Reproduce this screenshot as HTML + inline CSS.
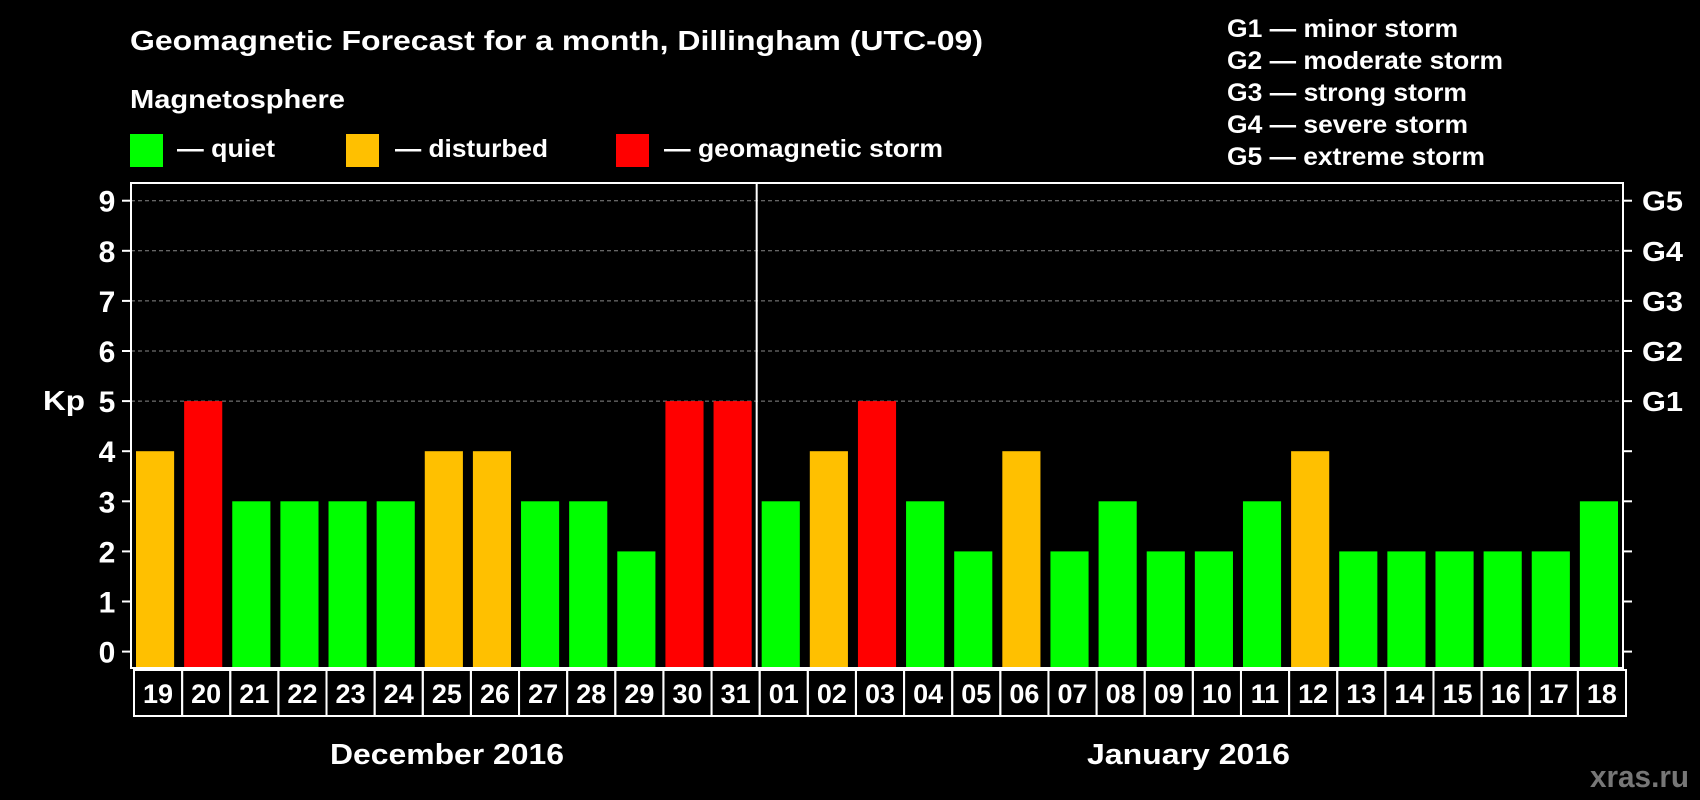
<!DOCTYPE html>
<html><head><meta charset="utf-8"><style>
html,body{margin:0;padding:0;background:#000;}
svg{display:block;font-family:"Liberation Sans",Arial,sans-serif;font-weight:bold;}
</style></head><body>
<svg id="chart" width="1700" height="800" viewBox="0 0 1700 800" xmlns="http://www.w3.org/2000/svg">
<rect width="1700" height="800" fill="#000"/>
<text x="130" y="50" fill="#fff" font-size="28" textLength="853" lengthAdjust="spacingAndGlyphs">Geomagnetic Forecast for a month, Dillingham (UTC-09)</text>
<text x="130" y="108" fill="#fff" font-size="26" textLength="215" lengthAdjust="spacingAndGlyphs">Magnetosphere</text>
<g><rect x="130" y="134" width="33" height="33" fill="#00ff00"/><text x="177" y="157" fill="#fff" font-size="25" textLength="98" lengthAdjust="spacingAndGlyphs">— quiet</text></g>
<g><rect x="346" y="134" width="33" height="33" fill="#ffc000"/><text x="395" y="157" fill="#fff" font-size="25" textLength="153" lengthAdjust="spacingAndGlyphs">— disturbed</text></g>
<g><rect x="616" y="134" width="33" height="33" fill="#ff0000"/><text x="664" y="157" fill="#fff" font-size="25" textLength="279" lengthAdjust="spacingAndGlyphs">— geomagnetic storm</text></g>
<g fill="#fff" font-size="25" lengthAdjust="spacingAndGlyphs">
<text x="1227" y="37" textLength="231" lengthAdjust="spacingAndGlyphs">G1 — minor storm</text>
<text x="1227" y="69" textLength="276" lengthAdjust="spacingAndGlyphs">G2 — moderate storm</text>
<text x="1227" y="101" textLength="240" lengthAdjust="spacingAndGlyphs">G3 — strong storm</text>
<text x="1227" y="133" textLength="241" lengthAdjust="spacingAndGlyphs">G4 — severe storm</text>
<text x="1227" y="165" textLength="258" lengthAdjust="spacingAndGlyphs">G5 — extreme storm</text>
</g>
<text x="43" y="410" fill="#fff" font-size="28" textLength="42" lengthAdjust="spacingAndGlyphs">Kp</text>
<g id="grid"></g><g id="bars"></g><g id="axes"></g>
<text x="330" y="764" fill="#fff" font-size="29" textLength="234" lengthAdjust="spacingAndGlyphs">December 2016</text>
<text x="1087" y="764" fill="#fff" font-size="29" textLength="203" lengthAdjust="spacingAndGlyphs">January 2016</text>
<text x="1590" y="787" fill="#777" font-size="31" textLength="99" lengthAdjust="spacingAndGlyphs">xras.ru</text>
</svg>
<script>
const days = ["19","20","21","22","23","24","25","26","27","28","29","30","31","01","02","03","04","05","06","07","08","09","10","11","12","13","14","15","16","17","18"];
const kpValues = [4,5,3,3,3,3,4,4,3,3,2,5,5,3,4,5,3,2,4,2,3,2,2,3,4,2,2,2,2,2,3];
const yTicks = [0,1,2,3,4,5,6,7,8,9];
const gLabels = ["G1","G2","G3","G4","G5"];
const NS="http://www.w3.org/2000/svg";
const L=131,R=1623,T=183,B=668,Y0=651.6,UNIT=50.1;
const n=days.length, pitch=(R-L)/n;
const y=v=>Y0-v*UNIT;
const x=i=>L+i*pitch;
function mk(tag,attrs,parent){const e=document.createElementNS(NS,tag);for(const k in attrs)e.setAttribute(k,attrs[k]);parent.appendChild(e);return e;}
const grid=document.getElementById('grid'),bars=document.getElementById('bars'),axes=document.getElementById('axes');
yTicks.forEach(v=>{
  if(v>=5){const g=mk('line',{x1:L,x2:R,y1:y(v),y2:y(v),stroke:'#888','stroke-dasharray':'4,3','stroke-width':1},grid);
  
  }
  const t1=mk('line',{x1:L-9,x2:L,y1:y(v),y2:y(v),stroke:'#fff','stroke-width':2},axes);
  
  
  const t2=mk('line',{x1:R,x2:R+9,y1:y(v),y2:y(v),stroke:'#fff','stroke-width':2},axes);
  
  
  const lb=mk('text',{x:107,y:y(v)+11,fill:'#fff','font-size':30,'text-anchor':'middle'},axes);
  lb.textContent=v;
  
  
});
gLabels.forEach((g,i)=>{
  const t=mk('text',{x:1642,y:y(5+i)+10,fill:'#fff','font-size':28,textLength:41,lengthAdjust:'spacingAndGlyphs'},axes);
  t.textContent=g;
  
  
});
kpValues.forEach((v,i)=>{
  const c=v>=5?'#ff0000':(v>=4?'#ffc000':'#00ff00');
  const r=mk('rect',{x:x(i)+5,y:y(v),width:pitch-10,height:B-y(v),fill:c},bars);
  
  
  const bx=mk('rect',{x:x(i)+3,y:670,width:pitch,height:46,fill:'none',stroke:'#fff','stroke-width':2},axes);
  
  
  const t=mk('text',{x:x(i)+3+pitch/2,y:703,fill:'#fff','font-size':27,'text-anchor':'middle'},axes);
  t.textContent=days[i];
  
  
});
const fr=mk('rect',{x:L,y:T,width:R-L,height:B-T,fill:'none',stroke:'#fff','stroke-width':2},axes);


const dv=mk('line',{x1:x(13),x2:x(13),y1:T,y2:B,stroke:'#fff','stroke-width':2},axes);


</script>
</body></html>
